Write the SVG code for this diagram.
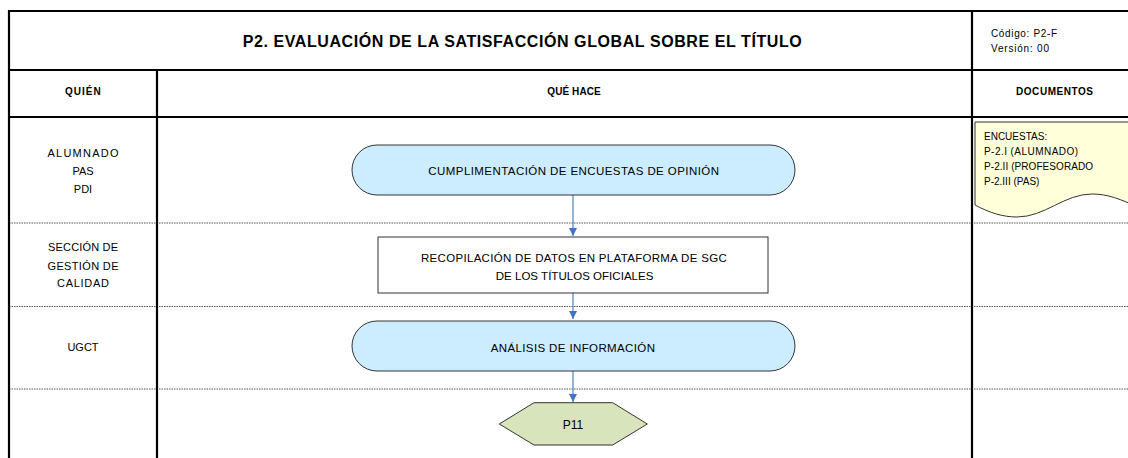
<svg xmlns="http://www.w3.org/2000/svg" width="1128" height="458" viewBox="0 0 1128 458">
<style>
text{font-family:"Liberation Sans",Arial,sans-serif;fill:#000}
.grid{stroke:#000;stroke-width:2.2;fill:none}
.lane{stroke:#555;stroke-width:1;stroke-dasharray:1.5 1;fill:none}
.b{font-weight:bold}
.term{fill:#CCECFF;stroke:#333;stroke-width:1}
.proc{fill:#fff;stroke:#333;stroke-width:1}
.hex{fill:#D8E4BC;stroke:#333;stroke-width:1}
.doc{fill:#FFFFD9;stroke:#333;stroke-width:1}
.conn{stroke:#4F81BD;stroke-width:1.2;fill:none;marker-end:url(#arr)}
.lbl{font-size:11px}
.node{font-size:11.5px}
.dt{font-size:10px}
</style>
<defs>
<marker id="arr" viewBox="0 0 10 10" refX="10" refY="5" markerWidth="8" markerHeight="8" markerUnits="userSpaceOnUse" orient="auto">
<path d="M0,0 L10,5 L0,10 Z" fill="#4472C4"/>
</marker>
</defs>
<rect width="1128" height="458" fill="#fff"/>
<g id="table">
<line class="lane" x1="9" y1="223" x2="1128" y2="223"/>
<line class="lane" x1="9" y1="306.5" x2="1128" y2="306.5"/>
<line class="lane" x1="9" y1="389" x2="1128" y2="389"/>
<path class="grid" d="M9,458 V11 H1128 M9,70 H1128 M9,117 H1128 M157,70 V458 M972,11 V458"/>
<text class="b" x="242.7" y="46.7" font-size="16" textLength="559">P2. EVALUACIÓN DE LA SATISFACCIÓN GLOBAL SOBRE EL TÍTULO</text>
<text x="991" y="36.7" font-size="10" textLength="66">Código: P2-F</text>
<text x="991" y="51.7" font-size="10" textLength="58">Versión: 00</text>
<text class="b" x="65" y="95" font-size="10" textLength="35.7">QUIÉN</text>
<text class="b" x="547.3" y="95" font-size="10" textLength="53.4">QUÉ HACE</text>
<text class="b" x="1016" y="95" font-size="10" textLength="77">DOCUMENTOS</text>
<text class="lbl" x="47.5" y="157" textLength="71">ALUMNADO</text>
<text class="lbl" x="83" y="175" text-anchor="middle">PAS</text>
<text class="lbl" x="83" y="193" text-anchor="middle">PDI</text>
<text class="lbl" x="48" y="251" textLength="70">SECCIÓN DE</text>
<text class="lbl" x="47.5" y="270" textLength="71">GESTIÓN DE</text>
<text class="lbl" x="57" y="287" textLength="52">CALIDAD</text>
<text class="lbl" x="83" y="351" text-anchor="middle">UGCT</text>
</g>
<g id="connectors">
<line class="conn" x1="573" y1="195" x2="573" y2="236"/>
<line class="conn" x1="573" y1="293" x2="573" y2="319"/>
<line class="conn" x1="573" y1="371" x2="573" y2="402"/>
</g>
<g id="n1">
<rect class="term" x="352" y="145" width="443" height="50" rx="25" ry="25"/>
<text class="node" x="428.3" y="175" textLength="290.7">CUMPLIMENTACIÓN DE ENCUESTAS DE OPINIÓN</text>
</g>
<g id="n2">
<rect class="proc" x="378" y="237" width="390" height="56"/>
<text class="node" x="421" y="261.7" textLength="305.7">RECOPILACIÓN DE DATOS EN PLATAFORMA DE SGC</text>
<text class="node" x="495.7" y="280" textLength="157.7">DE LOS TÍTULOS OFICIALES</text>
</g>
<g id="n3">
<rect class="term" x="352" y="321" width="443" height="50" rx="25" ry="25"/>
<text class="node" x="490.7" y="352.3" textLength="164.3">ANÁLISIS DE INFORMACIÓN</text>
</g>
<g id="n4">
<polygon class="hex" points="499.3,424 534,402.7 612.7,402.7 647.3,424 612.7,445 534,445"/>
<text x="573" y="429.3" font-size="12" text-anchor="middle">P11</text>
</g>
<g id="doc">
<path class="doc" d="M975,122 H1140 V208 C1120,199 1108,194 1092,194 C1064,194 1045,217 1017,217 C1003,217 990,213 975,205 Z"/>
<text class="dt" x="984" y="140">ENCUESTAS:</text>
<text class="dt" x="984" y="155" textLength="94">P-2.I (ALUMNADO)</text>
<text class="dt" x="984" y="170" textLength="109">P-2.II (PROFESORADO</text>
<text class="dt" x="984" y="185">P-2.III (PAS)</text>
</g>
</svg>
